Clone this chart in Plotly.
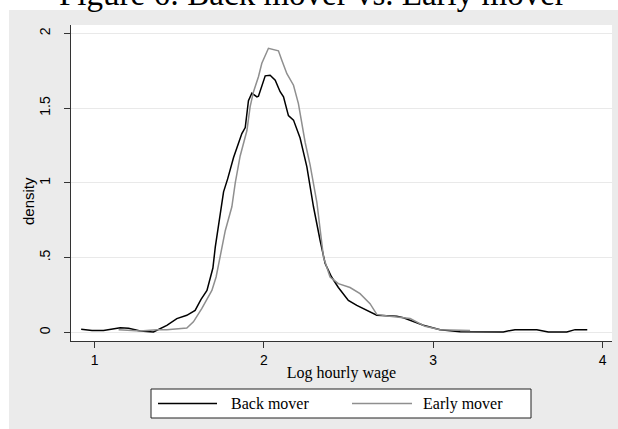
import plotly.graph_objects as go

# ---- data ----
series_names = ["Back mover", "Early mover"]

back_x = [0.921, 0.985, 1.053, 1.152, 1.201, 1.270, 1.348, 1.378, 1.427, 1.486,
          1.545, 1.594, 1.629, 1.664, 1.699, 1.713, 1.762, 1.787, 1.821, 1.870,
          1.890, 1.909, 1.929, 1.959, 1.968, 2.008, 2.037, 2.067, 2.096, 2.116,
          2.145, 2.175, 2.214, 2.254, 2.293, 2.332, 2.362, 2.400, 2.440, 2.499,
          2.549, 2.667, 2.785, 2.824, 2.942, 3.041, 3.159, 3.414, 3.483, 3.612,
          3.680, 3.789, 3.838, 3.910]
back_y = [0.020, 0.013, 0.013, 0.031, 0.027, 0.009, 0.002, 0.018, 0.047, 0.092,
          0.114, 0.147, 0.220, 0.280, 0.430, 0.570, 0.940, 1.030, 1.170, 1.330,
          1.370, 1.550, 1.600, 1.575, 1.580, 1.716, 1.720, 1.687, 1.610, 1.575,
          1.450, 1.420, 1.300, 1.107, 0.840, 0.616, 0.460, 0.370, 0.300, 0.214,
          0.180, 0.114, 0.107, 0.098, 0.047, 0.018, 0.004, 0.003, 0.018, 0.018,
          0.003, 0.003, 0.018, 0.017]

early_x = [1.142, 1.270, 1.368, 1.427, 1.545, 1.584, 1.634, 1.664, 1.693, 1.718,
           1.742, 1.772, 1.811, 1.831, 1.860, 1.900, 1.919, 1.939, 1.968, 1.988,
           2.027, 2.057, 2.086, 2.106, 2.136, 2.175, 2.204, 2.244, 2.273, 2.313,
           2.352, 2.391, 2.440, 2.509, 2.568, 2.627, 2.667, 2.730, 2.804, 2.864,
           2.952, 3.041, 3.218]
early_y = [0.018, 0.009, 0.018, 0.018, 0.029, 0.070, 0.160, 0.225, 0.280, 0.370,
           0.504, 0.680, 0.840, 1.000, 1.180, 1.350, 1.510, 1.610, 1.710, 1.800,
           1.900, 1.890, 1.883, 1.820, 1.730, 1.653, 1.530, 1.270, 1.120, 0.870,
           0.504, 0.370, 0.326, 0.300, 0.259, 0.192, 0.120, 0.110, 0.100, 0.092,
           0.040, 0.018, 0.013]

x_ticks = [1, 2, 3, 4]
y_ticks = [0, 0.5, 1, 1.5, 2]
y_ticktext = ["0", ".5", "1", "1.5", "2"]

title_text = "Figure 6: Back mover vs. Early mover"
x_title = "Log hourly wage"
y_title = "density"

line_colors = ["black", "#8f8f8f"]

# ---- layout geometry ----
W, H = 618, 429
L, R, T, B = 71, 6, 25, 88
PW, PH = W - L - R, H - T - B


def px(xp):
    return (xp - L) / PW


def py(yp):
    return (H - B - yp) / PH


fig = go.Figure()
for name, xs, ys, col in zip(series_names, [back_x, early_x], [back_y, early_y], line_colors):
    fig.add_trace(go.Scatter(x=xs, y=ys, mode="lines", name=name,
                             line=dict(color=col, width=1.5)))

LEG_Y = 403.5
shapes = [
    # white strips outside the grey Stata background
    dict(type="rect", xref="paper", yref="paper", x0=px(0), x1=px(W), y0=py(10), y1=py(0),
         fillcolor="white", line=dict(width=0), layer="below"),
    dict(type="rect", xref="paper", yref="paper", x0=px(0), x1=px(9), y0=py(H), y1=py(0),
         fillcolor="white", line=dict(width=0), layer="below"),
    # legend box
    dict(type="rect", xref="paper", yref="paper", x0=px(151), x1=px(531), y0=py(418), y1=py(389),
         fillcolor="white", line=dict(color="#222", width=1), layer="above"),
]
annotations = [
    dict(text=title_text, xref="paper", yref="paper", x=px(312), y=py(14),
         xanchor="center", yanchor="bottom", showarrow=False,
         font=dict(family="Liberation Serif", size=33, color="black")),
    # y-axis title
    dict(text=y_title, xref="paper", yref="paper", x=px(28), y=py(201),
         xanchor="center", yanchor="middle", showarrow=False, textangle=-90,
         font=dict(family="Liberation Sans", size=15, color="black")),
]
legend_items = [(158, 217, 229), (352, 412, 421)]
for (x0, x1, xt), name, col in zip(legend_items, series_names, line_colors):
    shapes.append(dict(type="line", xref="paper", yref="paper", x0=px(x0), x1=px(x1),
                       y0=py(LEG_Y), y1=py(LEG_Y), line=dict(color=col, width=1.5)))
    annotations.append(dict(text=name, xref="paper", yref="paper", x=px(xt), y=py(LEG_Y),
                            xanchor="left", yanchor="middle", showarrow=False,
                            font=dict(family="Liberation Serif", size=16, color="black")))

fig.update_layout(
    width=W, height=H,
    margin=dict(l=L, r=R, t=T, b=B, pad=0),
    paper_bgcolor="#ebebeb",
    plot_bgcolor="white",
    showlegend=False,
    shapes=shapes,
    annotations=annotations,
    xaxis=dict(range=[0.861, 4.056], tickvals=x_ticks, ticks="outside", ticklen=6,
               tickcolor="#333", showline=True, linecolor="#333", linewidth=1,
               showgrid=False, zeroline=False, automargin=False,
               tickfont=dict(family="Liberation Sans", size=14, color="black"),
               title=dict(text=x_title, standoff=0,
                          font=dict(family="Liberation Serif", size=16, color="black"))),
    yaxis=dict(range=[-0.058, 2.056], tickvals=y_ticks, ticktext=y_ticktext, tickangle=-90,
               ticks="outside", ticklen=6, tickcolor="#333", showline=True,
               linecolor="#333", linewidth=1, showgrid=True, gridcolor="#e9e9e9",
               gridwidth=1, zeroline=False, automargin=False, ticklabelstandoff=8,
               tickfont=dict(family="Liberation Sans", size=14, color="black")),
)

fig.write_html("out.html")
